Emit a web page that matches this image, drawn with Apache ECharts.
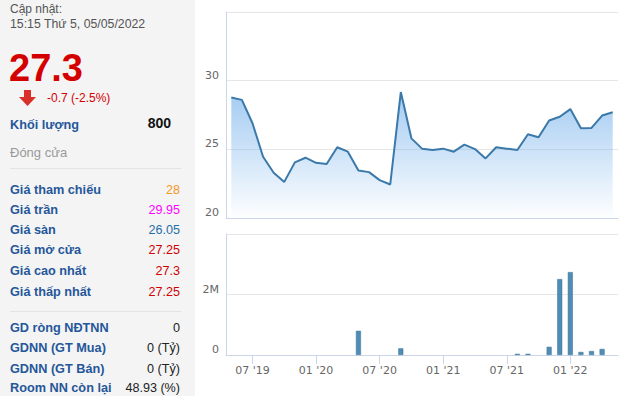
<!DOCTYPE html>
<html>
<head>
<meta charset="utf-8">
<script src="https://cdn.jsdelivr.net/npm/echarts@6/dist/echarts.min.js"></script>
<style>
html,body{margin:0;padding:0;background:#fff;}
#c{width:640px;height:396px;}
</style>
</head>
<body>
<div id="c"></div>
<script>
var months = ["05 '19","06 '19","07 '19","08 '19","09 '19","10 '19","11 '19","12 '19",
  "01 '20","02 '20","03 '20","04 '20","05 '20","06 '20","07 '20","08 '20","09 '20","10 '20","11 '20","12 '20",
  "01 '21","02 '21","03 '21","04 '21","05 '21","06 '21","07 '21","08 '21","09 '21","10 '21","11 '21","12 '21",
  "01 '22","02 '22","03 '22","04 '22","05 '22"];
var prices = [28.78, 28.6, 26.9, 24.46, 23.3, 22.63, 24.05, 24.39, 24.02, 23.93, 25.15, 24.83, 23.46, 23.34, 22.76, 22.44,
  29.17, 25.8, 25.05, 24.95, 25.05, 24.83, 25.34, 25.02, 24.34, 25.15, 25.05, 24.95, 26.1, 25.88, 27.1, 27.37, 27.93,
  26.54, 26.56, 27.46, 27.7];
var volumes = [0, 0, 0, 0, 0, 0, 0, 0, 0, 0, 0, 0, 800000, 0, 0, 0, 220000, 0, 0, 0, 0, 0, 0, 0, 0, 0, 0,
  40000, 40000, 0, 270000, 2510000, 2740000, 100000, 130000, 200000, 0];
var priceTicks = [20, 25, 30];
var volumeTickLabels = {0: "0", 2000000: "2M"};

var infoHeader = ["Cập nhật:", "15:15 Thứ 5, 05/05/2022"];
var lastPrice = "27.3";
var change = "-0.7 (-2.5%)";
var rowsA = [["Giá tham chiếu", "28", "#f7941d"], ["Giá trần", "29.95", "#ff00ff"], ["Giá sàn", "26.05", "#1f6ea8"],
  ["Giá mở cửa", "27.25", "#d00000"], ["Giá cao nhất", "27.3", "#d00000"], ["Giá thấp nhất", "27.25", "#d00000"]];
var rowsB = [["GD ròng NĐTNN", "0"], ["GDNN (GT Mua)", "0 (Tỷ)"], ["GDNN (GT Bán)", "0 (Tỷ)"], ["Room NN còn lại", "48.93 (%)"]];

var chart = echarts.init(document.getElementById('c'), null, {renderer: 'svg'});
var showMonth = function (idx, val) { var m = months[idx].slice(0, 2); return m === '01' || m === '07'; };
var lblFont = 'DejaVu Sans';
var labelColor = '#25579a';
var F = 'Liberation Sans, Arial, sans-serif';
var labelFont = 'bold 12.7px ' + F;
var valueFont = '12.6px ' + F;

var g = [];
g.push({type: 'rect', shape: {x: 0, y: 0, width: 195, height: 396}, style: {fill: '#f4f4f4'}, silent: true});
g.push({type: 'text', x: 10, y: 9, style: {text: infoHeader[0], font: '12px ' + F, fill: '#555', verticalAlign: 'middle'}});
g.push({type: 'text', x: 10, y: 24, style: {text: infoHeader[1], font: '12.3px ' + F, fill: '#555', verticalAlign: 'middle'}});
g.push({type: 'text', x: 9, y: 68, style: {text: lastPrice, font: 'bold 38px ' + F, fill: '#d40000', verticalAlign: 'middle'}});
g.push({type: 'polygon', shape: {points: [[24, 90], [31, 90], [31, 97], [36, 97], [27.5, 106], [19, 97], [24, 97]]}, style: {fill: '#d9302a'}});
g.push({type: 'text', x: 47, y: 98, style: {text: change, font: '12px ' + F, fill: '#d40000', verticalAlign: 'middle'}});
g.push({type: 'text', x: 10, y: 125, style: {text: 'Khối lượng', font: labelFont, fill: labelColor, verticalAlign: 'middle'}});
g.push({type: 'text', x: 171, y: 123, style: {text: '800', font: 'bold 14px ' + F, fill: '#111', align: 'right', verticalAlign: 'middle'}});
g.push({type: 'text', x: 10, y: 152, style: {text: 'Đóng cửa', font: '13px ' + F, fill: '#999', verticalAlign: 'middle'}});
g.push({type: 'line', shape: {x1: 10, y1: 168.5, x2: 181, y2: 168.5}, style: {stroke: '#e3e3e3', lineWidth: 1}});
var ysA = [189.5, 209.5, 229.5, 250, 270.5, 291.5];
rowsA.forEach(function (r, i) {
  g.push({type: 'text', x: 10, y: ysA[i], style: {text: r[0], font: labelFont, fill: labelColor, verticalAlign: 'middle'}});
  g.push({type: 'text', x: 180, y: ysA[i], style: {text: r[1], font: valueFont, fill: r[2], align: 'right', verticalAlign: 'middle'}});
});
g.push({type: 'line', shape: {x1: 10, y1: 311.5, x2: 181, y2: 311.5}, style: {stroke: '#e3e3e3', lineWidth: 1}});
var ysB = [327.5, 348, 368.5, 388];
rowsB.forEach(function (r, i) {
  g.push({type: 'text', x: 10, y: ysB[i], style: {text: r[0], font: labelFont, fill: labelColor, verticalAlign: 'middle'}});
  g.push({type: 'text', x: 180, y: ysB[i], style: {text: r[1], font: valueFont, fill: '#222', align: 'right', verticalAlign: 'middle'}});
});

var axisLineColor = '#ccd6eb';
var gridLineColor = '#e6e6e6';

chart.setOption({
  animation: false,
  backgroundColor: '#ffffff',
  graphic: g,
  grid: [
    {left: 226, right: 22, top: 12, height: 206},
    {left: 226, right: 22, top: 234, height: 121}
  ],
  xAxis: [
    {type: 'category', gridIndex: 0, data: months, boundaryGap: true,
      axisLine: {show: true, lineStyle: {color: axisLineColor}}, axisTick: {show: false}, axisLabel: {show: false}},
    {type: 'category', gridIndex: 1, data: months, boundaryGap: true,
      axisLine: {show: true, lineStyle: {color: axisLineColor}},
      axisTick: {show: true, interval: showMonth, alignWithLabel: true, length: 9, lineStyle: {color: axisLineColor}},
      axisLabel: {interval: showMonth, fontFamily: lblFont, fontSize: 11, color: '#666', margin: 10}}
  ],
  yAxis: [
    {type: 'value', gridIndex: 0, min: 20, max: 35, interval: 5,
      axisLine: {show: true, lineStyle: {color: axisLineColor}}, axisTick: {show: false},
      splitLine: {show: true, lineStyle: {color: gridLineColor}},
      axisLabel: {fontFamily: lblFont, fontSize: 11, color: '#666', margin: 7, verticalAlign: 'bottom',
        formatter: function (v) { return priceTicks.indexOf(v) >= 0 ? String(v) : ''; }}},
    {type: 'value', gridIndex: 1, min: 0, max: 4000000, interval: 2000000,
      axisLine: {show: true, lineStyle: {color: axisLineColor}}, axisTick: {show: false},
      splitLine: {show: true, lineStyle: {color: gridLineColor}},
      axisLabel: {fontFamily: lblFont, fontSize: 11, color: '#666', margin: 7, verticalAlign: 'bottom',
        formatter: function (v) { return volumeTickLabels[v] !== undefined ? volumeTickLabels[v] : ''; }}}
  ],
  series: [
    {type: 'line', xAxisIndex: 0, yAxisIndex: 0, data: prices, symbol: 'none',
      lineStyle: {color: '#3a79aa', width: 2},
      areaStyle: {color: new echarts.graphic.LinearGradient(0, 0, 0, 1, [
        {offset: 0, color: 'rgba(124,181,236,1)'},
        {offset: 1, color: 'rgba(124,181,236,0.02)'}
      ])}},
    {type: 'bar', xAxisIndex: 1, yAxisIndex: 1, barWidth: 5,
      data: volumes.map(function (v) { return v === 0 ? '-' : v; }),
      itemStyle: {color: '#4f8db5', borderColor: '#3c7094', borderWidth: 0.5}}
  ]
});
</script>
</body>
</html>
